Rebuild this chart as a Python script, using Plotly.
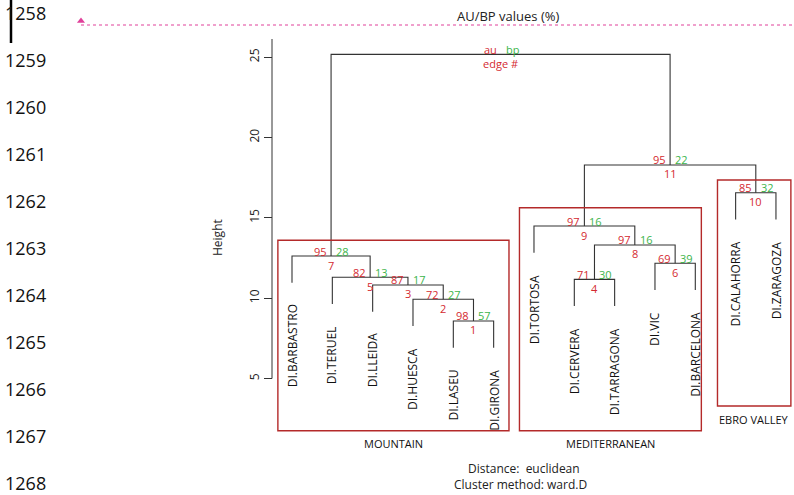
import plotly.graph_objects as go

# ---------------- data ----------------
leaves = ["DI.BARBASTRO", "DI.TERUEL", "DI.LLEIDA", "DI.HUESCA", "DI.LASEU",
          "DI.GIRONA", "DI.TORTOSA", "DI.CERVERA", "DI.TARRAGONA", "DI.VIC",
          "DI.BARCELONA", "DI.CALAHORRA", "DI.ZARAGOZA"]
# merges: negative = leaf number (1-based), positive = edge number
merge_left = [-5, -4, -3, -8, -2, -10, -1, 4, -7, -12, 9, 7]
merge_right = [-6, 1, 2, -9, 3, -11, 5, 6, 8, -13, 10, 11]
merge_height = [8.58, 9.93, 10.82, 11.17, 11.30, 12.17, 12.62, 13.31, 14.49, 16.56, 18.29, 25.17]
au_values = [98, 72, 87, 71, 82, 69, 95, 97, 97, 85, 95, None]
bp_values = [57, 27, 17, 30, 13, 39, 28, 16, 16, 32, 22, None]

groups = ["MOUNTAIN", "MEDITERRANEAN", "EBRO VALLEY"]
group_first = [1, 7, 12]
group_last = [6, 11, 13]
group_edge = [7, 9, 10]

y_ticks = [5, 10, 15, 20, 25]
line_numbers = list(range(1258, 1269))

# ---------------- layout geometry ----------------
W, H = 794, 495
leaf_px0, leaf_step = 292, 40.33
y_px5, y_unit = 378.5, 16.07
x0 = 1 - leaf_px0 / leaf_step
x1 = x0 + W / leaf_step
y_top = 5 + y_px5 / y_unit
y_bot = 5 - (H - y_px5) / y_unit

def px2x(px):
    return x0 + px / leaf_step

def px2y(py):
    return 5 + (y_px5 - py) / y_unit

RED = "#d42a30"
GREEN = "#3cb44a"
BOX = "#b42a2a"
LINE = "#333333"
FONT = "Open Sans"

hang = 0.1 * (max(merge_height) - min(merge_height))

# positions of nodes
node_x = {}
node_h = {}
for i, lf in enumerate(leaves, start=1):
    node_x[-i] = i
for e in range(1, len(merge_height) + 1):
    l, r = merge_left[e - 1], merge_right[e - 1]
    node_x[e] = (node_x[l] + node_x[r]) / 2
    node_h[e] = merge_height[e - 1]
for i in range(1, len(leaves) + 1):
    for e in range(1, len(merge_height) + 1):
        if merge_left[e - 1] == -i or merge_right[e - 1] == -i:
            node_h[-i] = merge_height[e - 1] - hang

xs, ys = [], []
for e in range(1, len(merge_height) + 1):
    l, r = merge_left[e - 1], merge_right[e - 1]
    h = merge_height[e - 1]
    xs += [node_x[l], node_x[l], node_x[r], node_x[r], None]
    ys += [node_h[l], h, h, node_h[r], None]

fig = go.Figure()
fig.add_trace(go.Scatter(x=xs, y=ys, mode="lines",
                         line=dict(color=LINE, width=1.1),
                         hoverinfo="skip", showlegend=False))

# y axis line
axis_x = px2x(272)
fig.add_trace(go.Scatter(x=[axis_x, axis_x], y=[y_ticks[0], px2y(39)], mode="lines",
                         line=dict(color=LINE, width=1), hoverinfo="skip", showlegend=False))

# top pink marker
fig.add_trace(go.Scatter(x=[px2x(81)], y=[px2y(21)], mode="markers",
                         marker=dict(symbol="triangle-up", size=7, color="#e0409a"),
                         hoverinfo="skip", showlegend=False))

ann = []
# au / bp / edge labels
for e in range(1, len(merge_height) + 1):
    x, h = node_x[e], node_h[e]
    au = au_values[e - 1]
    bp = bp_values[e - 1]
    ta = "au" if au is None else str(au)
    tb = "bp" if bp is None else str(bp)
    te = "edge #" if au is None else str(e)
    ann.append(dict(x=x, y=h, text=ta, xanchor="right", yanchor="middle",
                    xshift=-3, yshift=5, borderpad=0, font=dict(color=RED, size=11)))
    ann.append(dict(x=x, y=h, text=tb, xanchor="left", yanchor="middle",
                    xshift=4, yshift=5, borderpad=0, font=dict(color=GREEN, size=11)))
    ann.append(dict(x=x, y=h, text=te, xanchor="center", yanchor="middle",
                    yshift=-9, borderpad=0, font=dict(color=RED, size=11)))

# leaf labels
for i, lf in enumerate(leaves, start=1):
    ann.append(dict(x=i, y=node_h[-i], text=lf, textangle=-90,
                    xanchor="center", yanchor="top", yshift=-20,
                    font=dict(color="#111", size=12)))

# group boxes + labels
shapes = []
box_pad_l = [0.35, 0.36, 0.45]
box_pad_r = [0.38, 0.15, 0.37]
box_pad_t = [0.98, 1.14, 0.79]
box_bottom_px = [430.7, 430.7, 406]
for g, name in enumerate(groups):
    xl = group_first[g] - box_pad_l[g]
    xr = group_last[g] + box_pad_r[g]
    yt = merge_height[group_edge[g] - 1] + box_pad_t[g]
    yb = px2y(box_bottom_px[g])
    shapes.append(dict(type="rect", xref="x", yref="y", x0=xl, x1=xr, y0=yb, y1=yt,
                       line=dict(color=BOX, width=1.4)))
    ann.append(dict(x=(xl + xr) / 2, y=yb, text=name, xanchor="center", yanchor="middle",
                    yshift=-13, font=dict(color="#111", size=11)))

# pink dotted line at top
shapes.append(dict(type="line", xref="paper", yref="paper", x0=81 / W, x1=1,
                   y0=1 - 25 / H, y1=1 - 25 / H,
                   line=dict(color="#e0409a", width=1, dash="dot")))
# black bar at left
shapes.append(dict(type="line", xref="paper", yref="paper", x0=11 / W, x1=11 / W,
                   y0=1, y1=1 - 43 / H, line=dict(color="#000", width=2.5)))

ann.append(dict(xref="paper", yref="paper", x=508 / W, y=1 - 25 / H, text="AU/BP values (%)",
                xanchor="center", yanchor="bottom", yshift=-2,
                font=dict(color="#222", size=13)))
ann.append(dict(xref="paper", yref="paper", x=217 / W, y=1 - 238 / H, text="Height",
                textangle=-90, xanchor="center", yanchor="middle",
                font=dict(color="#222", size=12)))
ann.append(dict(xref="paper", yref="paper", x=524 / W, y=1 - 468 / H,
                text="Distance:  euclidean", xanchor="center", yanchor="middle",
                font=dict(color="#222", size=12)))
ann.append(dict(xref="paper", yref="paper", x=520 / W, y=1 - 484 / H,
                text="Cluster method: ward.D", xanchor="center", yanchor="middle",
                font=dict(color="#222", size=12)))

# line numbers at left margin
ln_top, ln_step = 13, 47
for k, n in enumerate(line_numbers):
    ann.append(dict(xref="paper", yref="paper", x=3 / W, y=1 - (ln_top + k * ln_step) / H,
                    text=str(n), xanchor="left", yanchor="middle",
                    font=dict(color="#111", size=18)))

for a in ann:
    a["showarrow"] = False

fig.update_layout(
    width=W, height=H, margin=dict(l=0, r=0, t=0, b=0),
    paper_bgcolor="white", plot_bgcolor="white",
    font=dict(family=FONT, color="#222"),
    xaxis=dict(range=[x0, x1], domain=[0, 1], visible=False, fixedrange=True),
    yaxis=dict(range=[y_bot, y_top], domain=[0, 1], anchor="free", position=272 / W,
               tickvals=y_ticks, ticks="outside", ticklen=8, tickcolor=LINE, tickwidth=1,
               tickangle=-90, tickfont=dict(size=12, color="#222"),
               showline=False, showgrid=False, zeroline=False, fixedrange=True),
    shapes=shapes, annotations=ann, showlegend=False,
)

fig.write_html("out.html", config={"displayModeBar": False},
               post_script="document.body.style.margin='0';document.body.style.overflow='hidden';")
